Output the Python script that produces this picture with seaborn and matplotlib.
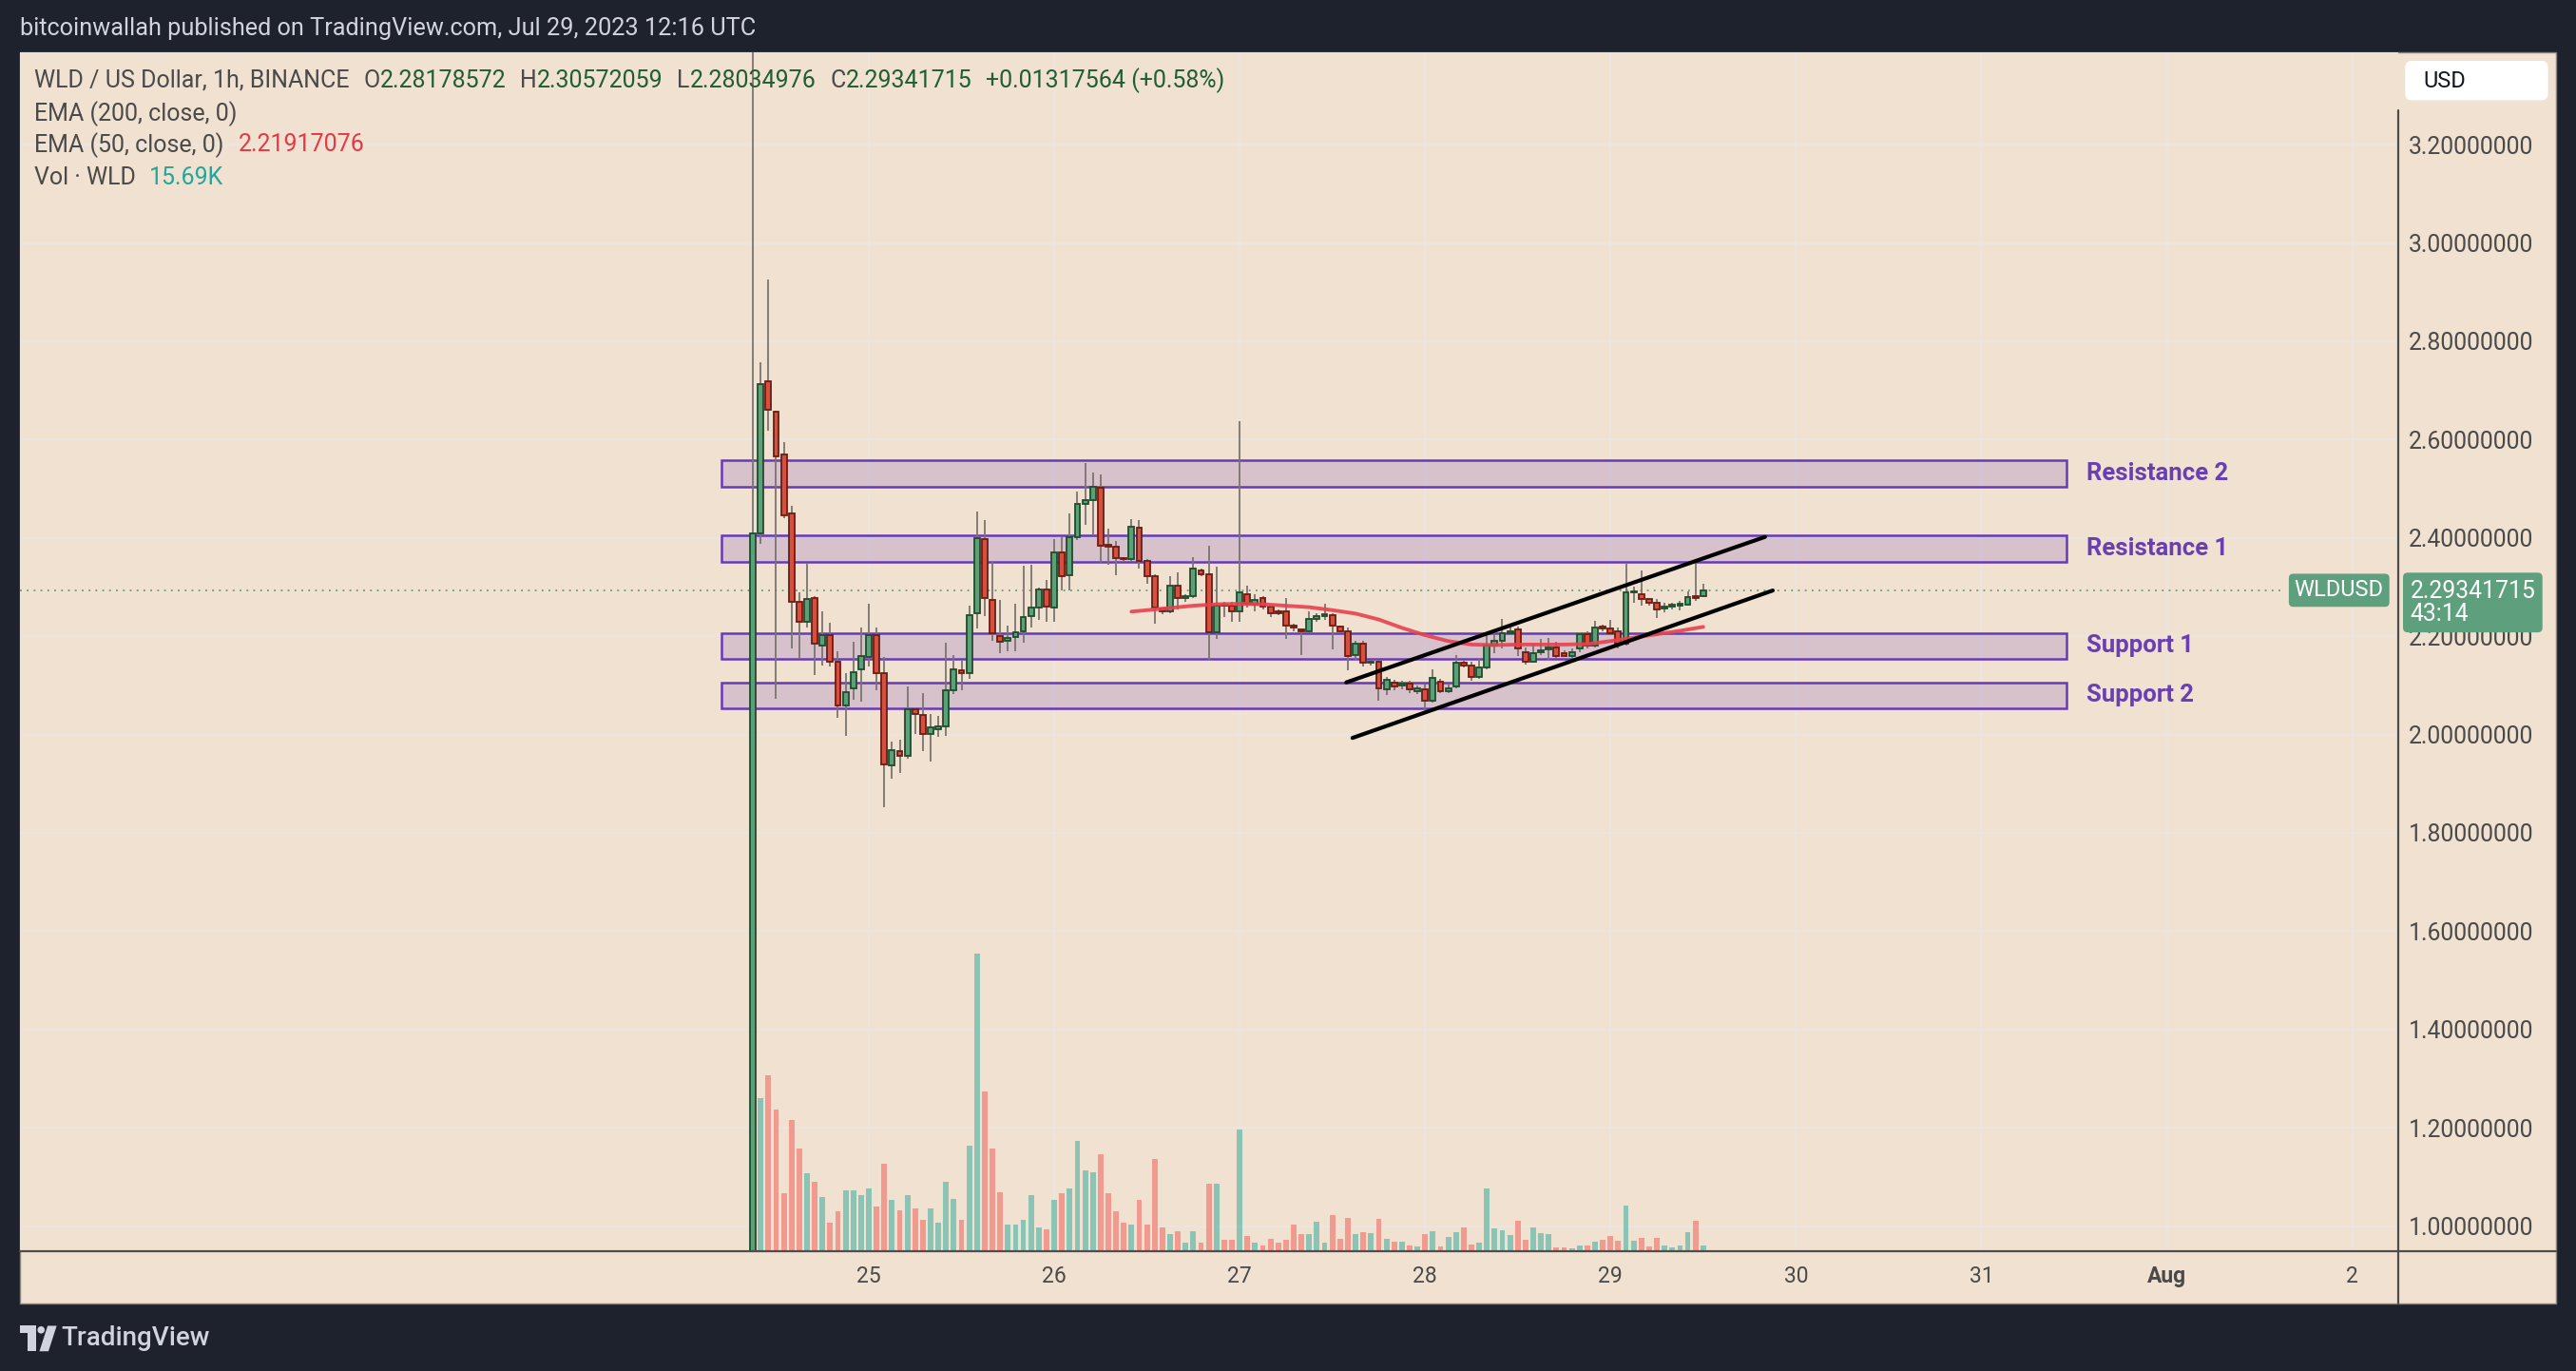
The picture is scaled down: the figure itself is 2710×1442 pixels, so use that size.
import matplotlib
matplotlib.use("Agg")

import numpy as np
import pandas as pd
import matplotlib.pyplot as plt
import matplotlib.transforms as mtransforms
import seaborn as sns
from matplotlib.patches import Rectangle, FancyBboxPatch, Polygon, Circle
from matplotlib.lines import Line2D

# =====================================================
# Data (hourly candles, index 0 = Jul 24 09:00 UTC)
# =====================================================

bar_index = list(range(124))

opens = [
    0.55, 2.410, 2.719, 2.656, 2.569, 2.450, 2.269, 2.229, 2.278, 2.180,
    2.202, 2.148, 2.060, 2.094, 2.132, 2.158, 2.202, 2.124, 1.938, 1.966,
    1.956, 2.052, 2.039, 2.002, 2.011, 2.016, 2.090, 2.130, 2.124, 2.246,
    2.397, 2.273, 2.201, 2.190, 2.198, 2.210, 2.241, 2.258, 2.296, 2.258,
    2.370, 2.324, 2.401, 2.470, 2.476, 2.502, 2.386, 2.382, 2.358, 2.356,
    2.421, 2.353, 2.322, 2.257, 2.250, 2.302, 2.278, 2.281, 2.334, 2.326,
    2.208, 2.265, 2.262, 2.250, 2.286, 2.265, 2.278, 2.261, 2.250, 2.250,
    2.222, 2.213, 2.210, 2.236, 2.241, 2.242, 2.220, 2.210, 2.162, 2.184,
    2.146, 2.149, 2.091, 2.105, 2.099, 2.104, 2.089, 2.091, 2.068, 2.108,
    2.089, 2.097, 2.146, 2.141, 2.117, 2.136, 2.181, 2.191, 2.207, 2.214,
    2.168, 2.149, 2.168, 2.174, 2.178, 2.165, 2.160, 2.175, 2.204, 2.181,
    2.218, 2.216, 2.210, 2.184, 2.289, 2.285, 2.275, 2.268, 2.257, 2.261,
    2.263, 2.265, 2.281, 2.28178572,
]

highs = [
    3.60, 2.758, 2.926, 2.658, 2.595, 2.466, 2.290, 2.350, 2.282, 2.250,
    2.228, 2.169, 2.124, 2.188, 2.218, 2.266, 2.218, 2.158, 1.986, 1.990,
    2.098, 2.056, 2.084, 2.041, 2.037, 2.186, 2.162, 2.150, 2.262, 2.453,
    2.436, 2.354, 2.273, 2.222, 2.266, 2.344, 2.346, 2.298, 2.314, 2.398,
    2.402, 2.450, 2.494, 2.553, 2.533, 2.530, 2.418, 2.394, 2.360, 2.438,
    2.436, 2.356, 2.326, 2.258, 2.322, 2.330, 2.286, 2.361, 2.338, 2.384,
    2.342, 2.270, 2.270, 2.638, 2.302, 2.286, 2.282, 2.262, 2.254, 2.278,
    2.226, 2.214, 2.250, 2.246, 2.266, 2.246, 2.222, 2.217, 2.191, 2.191,
    2.152, 2.152, 2.118, 2.112, 2.110, 2.110, 2.100, 2.101, 2.132, 2.114,
    2.101, 2.162, 2.152, 2.149, 2.155, 2.204, 2.210, 2.236, 2.223, 2.220,
    2.178, 2.185, 2.194, 2.197, 2.188, 2.172, 2.175, 2.207, 2.210, 2.231,
    2.223, 2.233, 2.217, 2.347, 2.301, 2.333, 2.278, 2.275, 2.268, 2.268,
    2.272, 2.291, 2.352, 2.30572059,
]

lows = [
    0.40, 2.388, 2.618, 2.072, 2.440, 2.176, 2.154, 2.218, 2.121, 2.140,
    2.138, 2.034, 1.998, 2.070, 2.066, 2.138, 2.090, 1.852, 1.910, 1.922,
    1.950, 2.001, 1.966, 1.945, 1.996, 1.998, 2.082, 2.090, 2.114, 2.216,
    2.241, 2.190, 2.165, 2.170, 2.170, 2.186, 2.218, 2.234, 2.230, 2.230,
    2.294, 2.294, 2.396, 2.426, 2.406, 2.350, 2.346, 2.324, 2.352, 2.352,
    2.338, 2.306, 2.226, 2.244, 2.246, 2.254, 2.270, 2.278, 2.322, 2.150,
    2.194, 2.238, 2.230, 2.230, 2.258, 2.250, 2.254, 2.238, 2.242, 2.194,
    2.210, 2.162, 2.208, 2.230, 2.234, 2.174, 2.208, 2.130, 2.152, 2.139,
    2.140, 2.068, 2.080, 2.090, 2.092, 2.084, 2.082, 2.050, 2.065, 2.084,
    2.084, 2.094, 2.136, 2.110, 2.114, 2.133, 2.165, 2.175, 2.204, 2.159,
    2.143, 2.146, 2.162, 2.152, 2.155, 2.159, 2.155, 2.168, 2.175, 2.178,
    2.210, 2.204, 2.175, 2.181, 2.268, 2.262, 2.262, 2.237, 2.249, 2.255,
    2.252, 2.262, 2.272, 2.28034976,
]

closes = [
    2.409, 2.712, 2.661, 2.565, 2.446, 2.269, 2.230, 2.276, 2.185, 2.202,
    2.148, 2.060, 2.086, 2.126, 2.160, 2.202, 2.124, 1.940, 1.969, 1.956,
    2.052, 2.041, 2.002, 2.014, 2.016, 2.090, 2.133, 2.125, 2.242, 2.400,
    2.278, 2.206, 2.188, 2.197, 2.208, 2.238, 2.258, 2.296, 2.261, 2.370,
    2.322, 2.401, 2.470, 2.476, 2.504, 2.384, 2.382, 2.358, 2.356, 2.422,
    2.353, 2.322, 2.258, 2.250, 2.302, 2.278, 2.280, 2.338, 2.326, 2.208,
    2.262, 2.262, 2.250, 2.289, 2.266, 2.274, 2.261, 2.246, 2.246, 2.222,
    2.217, 2.210, 2.236, 2.241, 2.243, 2.222, 2.210, 2.160, 2.184, 2.147,
    2.149, 2.093, 2.112, 2.098, 2.103, 2.091, 2.094, 2.069, 2.115, 2.089,
    2.094, 2.146, 2.141, 2.117, 2.136, 2.181, 2.191, 2.207, 2.210, 2.175,
    2.149, 2.165, 2.171, 2.177, 2.159, 2.160, 2.168, 2.205, 2.181, 2.217,
    2.216, 2.207, 2.184, 2.289, 2.290, 2.275, 2.268, 2.255, 2.261, 2.263,
    2.265, 2.279, 2.277, 2.29341715,
]

# volume in thousands of WLD
volumes_k = [
    600, 417, 479, 385, 157, 358, 278, 211, 188, 148,
    76, 108, 166, 166, 152, 170, 121, 237, 139, 112,
    152, 116, 85, 116, 76, 188, 143, 85, 287, 811,
    435, 278, 161, 72, 72, 85, 152, 63, 60, 139,
    157, 170, 300, 220, 215, 264, 157, 108, 78, 72,
    139, 72, 251, 63, 47, 54, 24, 54, 24, 184,
    184, 30, 31, 332, 42, 22, 15, 34, 22, 31,
    72, 45, 45, 81, 22, 99, 34, 90, 47, 52,
    49, 88, 34, 26, 26, 16, 13, 45, 55, 13,
    39, 52, 65, 18, 23, 170, 62, 57, 44, 83,
    31, 65, 49, 47, 10, 10, 7, 15, 15, 26,
    31, 42, 29, 125, 29, 36, 13, 36, 16, 10,
    16, 52, 83, 15.69,
]

# EMA 50
ema_index = [49, 53, 57, 60, 63, 66, 69, 72, 75, 78, 81, 84, 87,
             90, 93, 96, 99, 102, 105, 108, 111, 114, 117, 120, 123]
ema_values = [2.250, 2.256, 2.262, 2.265, 2.266, 2.265, 2.262, 2.259,
              2.253, 2.246, 2.234, 2.217, 2.202, 2.190, 2.183, 2.182,
              2.183, 2.183, 2.183, 2.184, 2.190, 2.197, 2.204, 2.211,
              2.219]
ema_last = 2.21917076

# channel drawn by hand
upper_x = [76.8, 131.0]
upper_y = [2.106, 2.402]
lower_x = [77.6, 132.0]
lower_y = [1.993, 2.293]

# support / resistance zones
zone_names = ["Resistance 2", "Resistance 1", "Support 1", "Support 2"]
zone_top = [2.558, 2.406, 2.207, 2.106]
zone_bottom = [2.504, 2.351, 2.153, 2.053]
zone_start = -4.1
zone_end = 170.0
zone_label_x = 172.6

# axes ticks
time_ticks = [15, 39, 63, 87, 111, 135, 159, 183, 207]
time_labels = ["25", "26", "27", "28", "29", "30", "31", "Aug", "2"]
price_ticks = [1.0, 1.2, 1.4, 1.6, 1.8, 2.0, 2.2, 2.4, 2.6, 2.8, 3.0, 3.2]

# =====================================================
# Style
# =====================================================

DARK = "#1e222d"
PEACH = "#f1e1d0"
GRID = "#ebe5e1"
UP_FILL = "#5c9f79"
UP_EDGE = "#1f4d2c"
DN_FILL = "#d6503f"
DN_EDGE = "#6b1c13"
WICK = "#7a7470"
VOL_UP = "#8bc3b5"
VOL_DN = "#f09a90"
PURPLE = "#673ab7"
TEXT = "#4a4a4a"
LAST_GREEN = "#5e9f7d"

sns.set_theme(style="white")
plt.rcParams["font.family"] = ["Roboto", "DejaVu Sans"]

fig = plt.figure(figsize=(27.1, 14.42), dpi=100, facecolor=DARK)

# reference layout coordinates (1568 x 834 grid, origin top-left)
T = mtransforms.Affine2D().scale(1 / 1568, -1 / 834).translate(0, 1) + fig.transFigure

fig.add_artist(Rectangle((12, 32), 1544, 761, transform=T,
                         facecolor=PEACH, edgecolor="#8a847e",
                         linewidth=1.0, zorder=-5))

rect = [12 / 1568, 1 - 761 / 834, (1460 - 12) / 1568, (761 - 32) / 834]
xlim = (-94.9, 213.0)
ylim = (0.9492, 3.3873)

ax_bg = fig.add_axes(rect, zorder=0)
ax_vol = fig.add_axes(rect, zorder=1)
ax = fig.add_axes(rect, zorder=2)

# =====================================================
# Background grid and scales
# =====================================================

ax_bg.set_facecolor(PEACH)
ax_bg.set_xlim(xlim)
ax_bg.set_ylim(ylim)
ax_bg.set_xticks(time_ticks)
ax_bg.set_xticklabels(time_labels)
ax_bg.set_yticks(price_ticks)
ax_bg.set_yticklabels([f"{p:.8f}" for p in price_ticks])
ax_bg.yaxis.tick_right()
ax_bg.grid(True, color=GRID, linewidth=1.3)
ax_bg.tick_params(axis="x", length=0, pad=11, labelsize=16.5, labelcolor=TEXT)
ax_bg.tick_params(axis="y", length=0, pad=7.5, labelsize=17.8, labelcolor=TEXT)
for spine in ax_bg.spines.values():
    spine.set_visible(False)
ax_bg.get_xticklabels()[7].set_fontweight("bold")

# =====================================================
# Volume
# =====================================================

direction = ["up" if c >= o else "down" for o, c in zip(opens, closes)]
vol_df = pd.DataFrame({"bar": bar_index, "volume": volumes_k, "direction": direction})

sns.barplot(
    data=vol_df, x="bar", y="volume", hue="direction",
    palette={"up": VOL_UP, "down": VOL_DN},
    native_scale=True, dodge=False, width=0.72,
    errorbar=None, legend=False, saturation=1,
    linewidth=0, ax=ax_vol,
)
ax_vol.set_xlim(xlim)
ax_vol.set_ylim(0, 3266)
ax_vol.axis("off")

# =====================================================
# Candles and drawings
# =====================================================

body_bottom = np.minimum(opens, closes)
body_height = np.maximum(np.abs(np.subtract(closes, opens)), 0.003)
fill = [UP_FILL if d == "up" else DN_FILL for d in direction]
edge = [UP_EDGE if d == "up" else DN_EDGE for d in direction]

for i in range(len(zone_names)):
    ax.add_patch(Rectangle(
        (zone_start, zone_bottom[i]), zone_end - zone_start,
        zone_top[i] - zone_bottom[i],
        facecolor=(0.404, 0.227, 0.718, 0.19),
        edgecolor=PURPLE, linewidth=1.8, zorder=1))
    ax.text(zone_label_x, (zone_top[i] + zone_bottom[i]) / 2, zone_names[i],
            color="#6a3fb5", fontsize=18.5, fontweight="bold",
            va="center", ha="left", zorder=6)

ax.vlines(bar_index, lows, highs, color=WICK, linewidth=1.3, zorder=2)
ax.bar(bar_index, body_height, bottom=body_bottom, width=0.72,
       color=fill, edgecolor=edge, linewidth=1.3, zorder=3)

sns.lineplot(x=ema_index, y=ema_values, ax=ax, color="#e8414f",
             linewidth=2.8, alpha=0.9, zorder=4)
sns.lineplot(x=upper_x, y=upper_y, ax=ax, color="black", linewidth=3, zorder=5)
sns.lineplot(x=lower_x, y=lower_y, ax=ax, color="black", linewidth=3, zorder=5)
ax.set_xlim(xlim)
ax.set_ylim(ylim)
ax.axis("off")

# last price line and labels
ax.axhline(closes[-1], xmin=0, xmax=(1391 - 12) / (1460 - 12),
           color=LAST_GREEN, linewidth=1.3, linestyle=(0, (1, 3)), zorder=1)

blend = mtransforms.blended_transform_factory(T, ax.transData)
ax.annotate(f"{closes[-1]:.8f}\n43:14", xy=(1467, closes[-1]), xycoords=blend,
            xytext=(0, 8), textcoords="offset points",
            ha="left", va="top", fontsize=17.8, color="white", linespacing=1.0,
            bbox=dict(boxstyle="round,pad=0.3,rounding_size=0.2",
                      facecolor=LAST_GREEN, edgecolor="none"),
            zorder=10)
ax.annotate("WLDUSD", xy=(1451, closes[-1]), xycoords=blend,
            ha="right", va="center", fontsize=17, color="white",
            bbox=dict(boxstyle="round,pad=0.25,rounding_size=0.2",
                      facecolor=LAST_GREEN, edgecolor="none"),
            zorder=10)

# axis border lines
fig.add_artist(Line2D([12, 1556], [761, 761], transform=T, color="#4f4c4a", linewidth=1.6, zorder=3))
fig.add_artist(Line2D([1460, 1460], [67, 793], transform=T, color="#4f4c4a", linewidth=1.6, zorder=3))

# currency box
fig.add_artist(FancyBboxPatch((1464, 37), 87, 24, transform=T,
                              boxstyle="round,pad=0,rounding_size=4",
                              facecolor="white", edgecolor="none", zorder=4))
fig.text(1475, 49.5, "USD", transform=T, fontsize=17, color="#131722",
         va="center", ha="left", zorder=5)

# =====================================================
# Header, legend and footer
# =====================================================

fig.text(12, 17.5, "bitcoinwallah published on TradingView.com, Jul 29, 2023 12:16 UTC",
         transform=T, fontsize=18.2, color="#d1d4dc", va="center", ha="left")

fig.canvas.draw()
renderer = fig.canvas.get_renderer()


def legend_row(y, parts, x=21):
    for text, color, gap in parts:
        t = fig.text(x, y, text, transform=T, fontsize=18, color=color,
                     va="center", ha="left", zorder=6)
        x += t.get_window_extent(renderer).width / (2710 / 1568) + gap


LG = "#4a4a4a"
GR = "#1f5f31"
legend_row(49, [
    ("WLD / US Dollar, 1h, BINANCE", LG, 8.5),
    ("O", LG, 0), (f"{opens[-1]:.8f}", GR, 8.5),
    ("H", LG, 0), (f"{highs[-1]:.8f}", GR, 8.5),
    ("L", LG, 0), (f"{lows[-1]:.8f}", GR, 8.5),
    ("C", LG, 0), (f"{closes[-1]:.8f}", GR, 8.5),
    ("+0.01317564 (+0.58%)", GR, 0),
])
legend_row(69, [("EMA (200, close, 0)", LG, 0)])
legend_row(88, [("EMA (50, close, 0)", LG, 9), (f"{ema_last:.8f}", "#e53945", 0)])
legend_row(108, [("Vol \u00b7 WLD", LG, 8), (f"{volumes_k[-1]:.2f}K", "#26a69a", 0)])

# TradingView logo
fig.add_artist(Polygon([(12, 806.5), (22, 806.5), (22, 822), (17, 822), (17, 811), (12, 811)],
                       closed=True, transform=T, facecolor="#d1d4dc", edgecolor="none"))
fig.add_artist(Circle((25, 809), 2.2, transform=T, facecolor="#d1d4dc", edgecolor="none"))
fig.add_artist(Polygon([(29, 806.5), (34.5, 806.5), (29.5, 822), (24, 822)],
                       closed=True, transform=T, facecolor="#d1d4dc", edgecolor="none"))
fig.text(37, 814, "TradingView", transform=T, fontsize=20, color="#d1d4dc",
         fontweight="medium", va="center", ha="left")

fig.savefig("out.png", dpi=100, facecolor=DARK)
